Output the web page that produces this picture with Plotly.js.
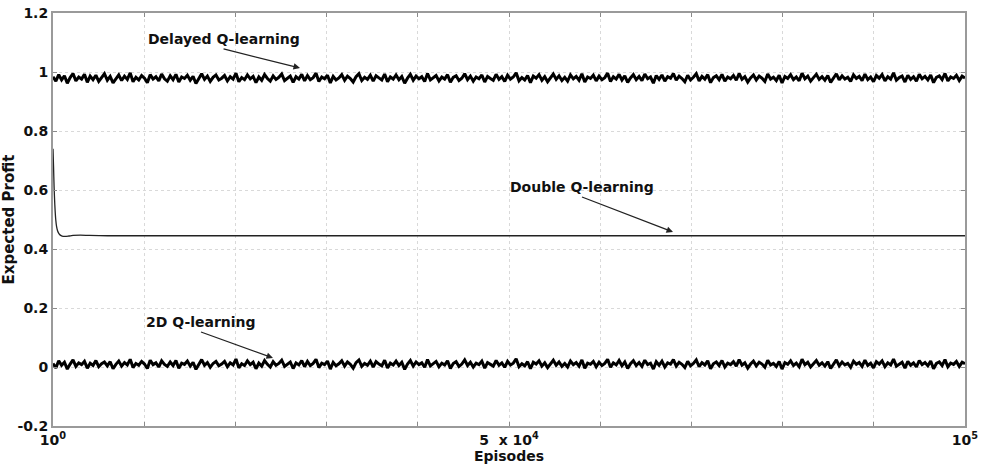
<!DOCTYPE html>
<html>
<head>
<meta charset="utf-8">
<script src="https://cdn.plot.ly/plotly-3.0.1.min.js"></script>
<style>html,body{margin:0;padding:0;background:#fff}#chart{width:981px;height:466px}</style>
</head>
<body>
<div id="chart"></div>
<script>
// Episode range
const xStart = 1;
const xEnd = 100000;

// Delayed Q-learning (sampled uniformly over episodes 1..1e5)
const delayedQ = [
0.984,0.969,0.991,0.973,0.987,0.962,0.981,0.995,0.970,0.983,0.976,0.992,0.965,0.986,0.974,0.989,0.968,0.980,0.994,0.972,
0.985,0.963,0.978,0.990,0.971,0.986,0.975,0.997,0.967,0.982,0.973,0.988,0.979,0.964,0.991,0.976,0.984,0.970,0.993,0.977,
0.969,0.987,0.974,0.992,0.966,0.983,0.978,0.989,0.972,0.985,0.961,0.980,0.994,0.975,0.986,0.968,0.982,0.990,0.973,0.979,
0.988,0.970,0.984,0.976,0.996,0.967,0.981,0.974,0.990,0.977,0.985,0.964,0.983,0.972,0.991,0.978,0.969,0.987,0.975,0.982,
0.993,0.971,0.979,0.986,0.965,0.984,0.976,0.992,0.970,0.988,0.974,0.981,0.996,0.968,0.983,0.977,0.989,0.963,0.985,0.973,
0.980,0.991,0.972,0.986,0.978,0.966,0.984,0.994,0.971,0.982,0.975,0.989,0.969,0.987,0.980,0.973,0.993,0.967,0.983,0.976,
0.990,0.974,0.985,0.962,0.979,0.992,0.972,0.986,0.977,0.984,0.968,0.995,0.973,0.981,0.988,0.970,0.983,0.976,0.991,0.965,
0.982,0.987,0.971,0.979,0.994,0.974,0.986,0.969,0.983,0.977,0.990,0.966,0.985,0.978,0.972,0.992,0.975,0.984,0.968,0.989,
0.976,0.983,0.997,0.970,0.981,0.973,0.988,0.964,0.986,0.979,0.991,0.972,0.984,0.967,0.980,0.993,0.975,0.987,0.971,0.982,
0.969,0.990,0.977,0.985,0.972,0.994,0.966,0.983,0.978,0.989,0.970,0.986,0.974,0.981,0.996,0.968,0.984,0.976,0.992,0.973,
0.987,0.965,0.980,0.991,0.974,0.985,0.971,0.993,0.977,0.983,0.962,0.988,0.975,0.990,0.969,0.984,0.979,0.995,0.972,0.986,
0.978,0.967,0.989,0.973,0.982,0.994,0.970,0.985,0.976,0.991,0.964,0.981,0.987,0.974,0.992,0.969,0.983,0.977,0.988,0.972,
0.995,0.975,0.984,0.966,0.980,0.990,0.973,0.986,0.979,0.968,0.993,0.976,0.982,0.971,0.989,0.963,0.985,0.978,0.991,0.974,
0.983,0.970,0.996,0.977,0.986,0.969,0.981,0.992,0.975,0.984,0.972,0.988,0.965,0.980,0.994,0.973,0.987,0.976,0.982,0.968,
0.990,0.978,0.985,0.971,0.993,0.974,0.983,0.967,0.988,0.979,0.991,0.970,0.984,0.976,0.997,0.972,0.981,0.986,0.966,0.989,
0.975,0.984,0.969,0.992,0.977,0.985,0.973,0.990,0.964,0.982,0.987,0.974,0.995,0.970,0.983,0.978,0.989,0.971,0.986,0.980
];

// 2D Q-learning (sampled uniformly over episodes 1..1e5)
const twoDQ = [
0.012,-0.003,0.021,0.006,0.016,-0.007,0.010,0.024,0.002,0.014,0.008,0.019,-0.004,0.013,0.005,0.022,0.001,0.011,0.017,0.004,
0.018,-0.006,0.009,0.020,0.003,0.015,0.007,0.026,-0.002,0.012,0.006,0.019,0.010,-0.005,0.023,0.008,0.014,0.000,0.021,0.009,
0.002,0.017,0.005,0.022,-0.004,0.013,0.009,0.020,0.003,0.016,-0.008,0.011,0.025,0.006,0.015,-0.001,0.012,0.019,0.004,0.010,
0.019,0.001,0.014,0.007,0.027,-0.003,0.011,0.005,0.021,0.008,0.016,-0.006,0.013,0.003,0.022,0.009,0.000,0.018,0.006,0.012,
0.023,0.002,0.010,0.017,-0.005,0.014,0.007,0.022,0.001,0.019,0.005,0.012,0.026,-0.002,0.013,0.008,0.020,-0.007,0.016,0.004,
0.011,0.021,0.003,0.017,0.009,-0.004,0.015,0.024,0.002,0.012,0.006,0.020,0.000,0.018,0.010,0.004,0.023,-0.003,0.013,0.007,
0.020,0.005,0.016,-0.008,0.010,0.022,0.003,0.017,0.008,0.014,-0.001,0.025,0.004,0.012,0.019,0.001,0.013,0.007,0.021,-0.005,
0.012,0.018,0.002,0.010,0.024,0.005,0.016,0.000,0.013,0.008,0.020,-0.004,0.015,0.009,0.003,0.022,0.006,0.014,-0.001,0.019,
0.007,0.013,0.028,0.001,0.011,0.004,0.018,-0.006,0.016,0.010,0.021,0.003,0.014,-0.002,0.011,0.023,0.006,0.017,0.002,0.012,
0.000,0.020,0.008,0.015,0.003,0.024,-0.004,0.013,0.009,0.019,0.001,0.016,0.005,0.012,0.026,-0.001,0.014,0.007,0.022,0.004,
0.017,-0.005,0.011,0.021,0.005,0.015,0.002,0.023,0.008,0.013,-0.007,0.018,0.006,0.020,0.000,0.014,0.010,0.025,0.003,0.016,
0.009,-0.002,0.019,0.004,0.012,0.024,0.001,0.015,0.007,0.021,-0.006,0.011,0.017,0.005,0.022,0.000,0.013,0.008,0.018,0.003,
0.025,0.006,0.014,-0.004,0.010,0.020,0.004,0.016,0.010,-0.001,0.023,0.007,0.012,0.002,0.019,-0.007,0.015,0.009,0.021,0.005,
0.013,0.001,0.026,0.008,0.016,0.000,0.011,0.022,0.006,0.014,0.003,0.018,-0.005,0.010,0.024,0.004,0.017,0.007,0.012,-0.001,
0.020,0.009,0.015,0.002,0.023,0.005,0.013,-0.003,0.018,0.010,0.021,0.001,0.014,0.007,0.027,0.003,0.011,0.016,-0.004,0.019,
0.006,0.014,0.000,0.022,0.008,0.015,0.004,0.020,-0.006,0.012,0.017,0.005,0.025,0.001,0.013,0.009,0.019,0.002,0.016,0.011
];

// Double Q-learning
const doubleEpisodes = [1, 60, 120, 200, 300, 400, 500, 650, 800, 1000, 1300, 1700, 2200, 3000, 4000, 6000, 10000, 20000, 30000, 40000, 50000, 60000, 70000, 80000, 90000, 100000];
const doubleQ =        [0.74, 0.68, 0.61, 0.55, 0.50, 0.475, 0.462, 0.452, 0.447, 0.444, 0.443, 0.444, 0.446, 0.447, 0.446, 0.445, 0.445, 0.445, 0.445, 0.445, 0.445, 0.445, 0.445, 0.445, 0.445, 0.445];

// Axis ticks
const xTickVals = [1, 50000, 100000];
const xTickText = ['10<sup>0</sup>', '5  x 10<sup>4</sup>', '10<sup>5</sup>'];
const yTickVals = [-0.2, 0, 0.2, 0.4, 0.6, 0.8, 1, 1.2];
const yTickText = ['-0.2', '0', '0.2', '0.4', '0.6', '0.8', '1', '1.2'];

const seriesNames = ['Delayed Q-learning', 'Double Q-learning', '2D Q-learning'];

const dxDelayed = (xEnd - xStart) / (delayedQ.length - 1);
const dx2D = (xEnd - xStart) / (twoDQ.length - 1);

const traces = [
  {type: 'scatter', mode: 'lines', name: seriesNames[0], x0: xStart, dx: dxDelayed, y: delayedQ,
   line: {color: '#000', width: 3}, hoverinfo: 'skip'},
  {type: 'scatter', mode: 'lines', name: seriesNames[1], x: doubleEpisodes, y: doubleQ,
   line: {color: '#222', width: 1.3, shape: 'spline', smoothing: 0.6}, hoverinfo: 'skip'},
  {type: 'scatter', mode: 'lines', name: seriesNames[2], x0: xStart, dx: dx2D, y: twoDQ,
   line: {color: '#000', width: 3}, hoverinfo: 'skip'}
];

const fontFam = 'DejaVu Sans, Verdana, sans-serif';
const gridCol = '#d9d9d9';
const axisCommon = {
  showline: true, linecolor: '#9a9a9a', linewidth: 2, mirror: 'ticks',
  ticks: 'inside', ticklen: 4, tickcolor: '#8a8a8a', tickwidth: 1,
  showgrid: true, gridcolor: gridCol, griddash: 'dot', gridwidth: 1,
  zeroline: false, automargin: false,
  tickfont: {family: fontFam, size: 14, color: '#111', weight: 'bold'}
};

function ann(text, x, y, ax, ay) {
  return {text: text, x: x, y: y, ax: ax, ay: ay, xref: 'x', yref: 'y', axref: 'x', ayref: 'y',
          xanchor: 'center', yanchor: 'bottom',
          showarrow: true, arrowhead: 2, arrowsize: 1, arrowwidth: 1.3, arrowcolor: '#222', standoff: 0,
          font: {family: fontFam, size: 14, color: '#111', weight: 'bold'}};
}

const layout = {
  width: 981, height: 466,
  margin: {l: 53, r: 16, t: 13, b: 40},
  paper_bgcolor: '#fff', plot_bgcolor: '#fff',
  showlegend: false,
  xaxis: Object.assign({}, axisCommon, {
    range: [xStart, xEnd], tickmode: 'array', tickvals: xTickVals, ticktext: xTickText,
    minor: {tick0: 0, dtick: 10000, showgrid: true, gridcolor: gridCol, griddash: 'dot', gridwidth: 1,
            ticks: 'inside', ticklen: 4, tickcolor: '#8a8a8a'},
    title: {text: 'Episodes', standoff: 2, font: {family: fontFam, size: 14, color: '#111', weight: 'bold'}}
  }),
  yaxis: Object.assign({}, axisCommon, {
    range: [-0.2, 1.2], tickmode: 'array', tickvals: yTickVals, ticktext: yTickText,
    title: {text: 'Expected Profit', standoff: 0, font: {family: fontFam, size: 15, color: '#111', weight: 'bold'}}
  }),
  annotations: [
    ann(seriesNames[0], 27083, 1.0136, 18700, 1.078),
    ann(seriesNames[1], 67983, 0.4576, 58005, 0.5763),
    ann(seriesNames[2], 24123, 0.0305, 16229, 0.1186)
  ]
};

Plotly.newPlot('chart', traces, layout, {displayModeBar: false, staticPlot: true});
</script>
</body>
</html>
